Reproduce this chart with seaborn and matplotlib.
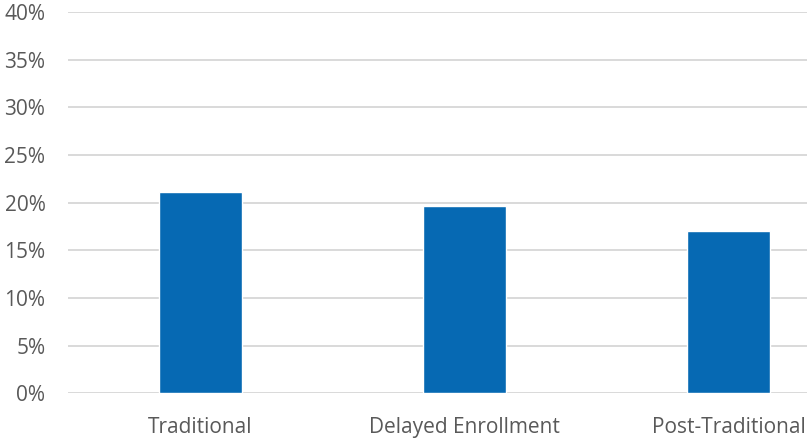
import matplotlib
matplotlib.use("Agg")
import matplotlib.pyplot as plt
from matplotlib.ticker import PercentFormatter
import seaborn as sns
import pandas as pd

categories = ["Traditional", "Delayed Enrollment", "Post-Traditional"]
shares = [21.1, 19.65, 17.0]
y_ticks = [0, 5, 10, 15, 20, 25, 30, 35, 40]

sns.set_style("white")
plt.rcParams["font.family"] = ["Open Sans", "DejaVu Sans"]

df = pd.DataFrame({"category": categories, "share": shares})

fig = plt.figure(figsize=(8.07, 4.38), dpi=100)
ax = fig.add_axes([68.3 / 807, 1 - 393.3 / 438, 1 - 68.3 / 807, (393.3 - 12) / 438])

sns.barplot(data=df, x="category", y="share", color="#0669B3", width=0.314,
            saturation=1, ax=ax, zorder=3)

ax.set_ylim(0, 40)
ax.set_xlim(-0.5, 2.297)
ax.set_yticks(y_ticks)
ax.yaxis.set_major_formatter(PercentFormatter(decimals=0))
ax.grid(axis="y", color="#d9d9d9", linewidth=1.4, zorder=0)
ax.set_axisbelow(True)
for s in ax.spines.values():
    s.set_visible(False)
ax.tick_params(axis="both", length=0, labelsize=15, labelcolor="#595959")
ax.tick_params(axis="y", pad=16.5)
ax.tick_params(axis="x", pad=17)
ax.set_xlabel("")
ax.set_ylabel("")

fig.savefig("out.png", dpi=100)
